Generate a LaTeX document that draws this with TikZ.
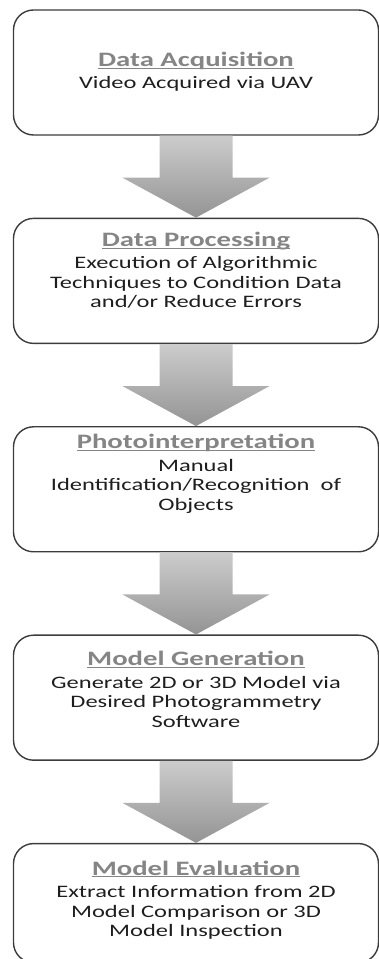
\documentclass[tikz,border=0pt]{standalone}
\usepackage{fontspec}
\setmainfont{Carlito}[FakeStretch=1.4]
\usetikzlibrary{positioning,calc}

\definecolor{ttlgray}{HTML}{858585}
\definecolor{boxline}{HTML}{3C3C3C}
\definecolor{bodytxt}{HTML}{1E1E1E}
\newcommand{\ttl}[1]{{\fontsize{20.5}{24}\selectfont\bfseries\color{ttlgray}\underline{\smash{#1}\vphantom{A}}}}
% block arrow from the bottom of one box to the top of the next
\newcommand{\flowarrow}[2]{%
  \shade[top color=black!20, bottom color=black!42]
    ($(#1.south)+(-36.5,0)$) -- ($(#2.north)+(-36.5,40)$) -- ($(#2.north)+(-73.5,40)$)
    -- (#2.north) -- ($(#2.north)+(73.5,40)$) -- ($(#2.north)+(36.5,40)$)
    -- ($(#1.south)+(36.5,0)$) -- cycle;}

\begin{document}
\begin{tikzpicture}[x=1pt,y=1pt,
    stagebox/.style={draw=boxline, line width=1.4pt, rounded corners=20pt,
      minimum width=365pt, minimum height=125pt, inner sep=0pt},
    stagetxt/.style={align=center, text=bodytxt, font=\fontsize{17.5}{19.5}\selectfont},
    node distance=82pt]
  \useasboundingbox (0,0) rectangle (379,959);

  \node[stagebox] (acq) at (196,886.5) {};
  \node[stagebox, below=of acq] (proc) {};
  \node[stagebox, below=of proc] (interp) {};
  \node[stagebox, below=of interp] (gen) {};
  \node[stagebox, below=of gen, minimum height=119pt] (eval) {};

  \node[stagetxt] (acqtxt) at (acq.center) {\ttl{Data Acquisition}\\[3pt] Video Acquired via UAV};
  \node[stagetxt] (proctxt) at ([yshift=10pt]proc.center) {\ttl{Data Processing}\\[3pt]
    Execution of Algorithmic\\ Techniques to Condition Data\\ and/or Reduce Errors};
  \node[stagetxt] (interptxt) at ([yshift=15pt]interp.center) {\ttl{Photointerpretation}\\[3pt]
    Manual\\ Identification/Recognition\ \ of\\ Objects};
  \node[stagetxt] (gentxt) at ([yshift=8pt]gen.center) {\ttl{Model Generation}\\[3pt]
    Generate 2D or 3D Model via\\ Desired Photogrammetry\\ Software};
  \node[stagetxt] (evaltxt) at ([yshift=2.5pt]eval.center) {\ttl{Model Evaluation}\\[3pt]
    Extract Information from 2D\\ Model Comparison or 3D\\ Model Inspection};

  \flowarrow{acq}{proc}
  \flowarrow{proc}{interp}
  \flowarrow{interp}{gen}
  \flowarrow{gen}{eval}
\end{tikzpicture}
\end{document}
